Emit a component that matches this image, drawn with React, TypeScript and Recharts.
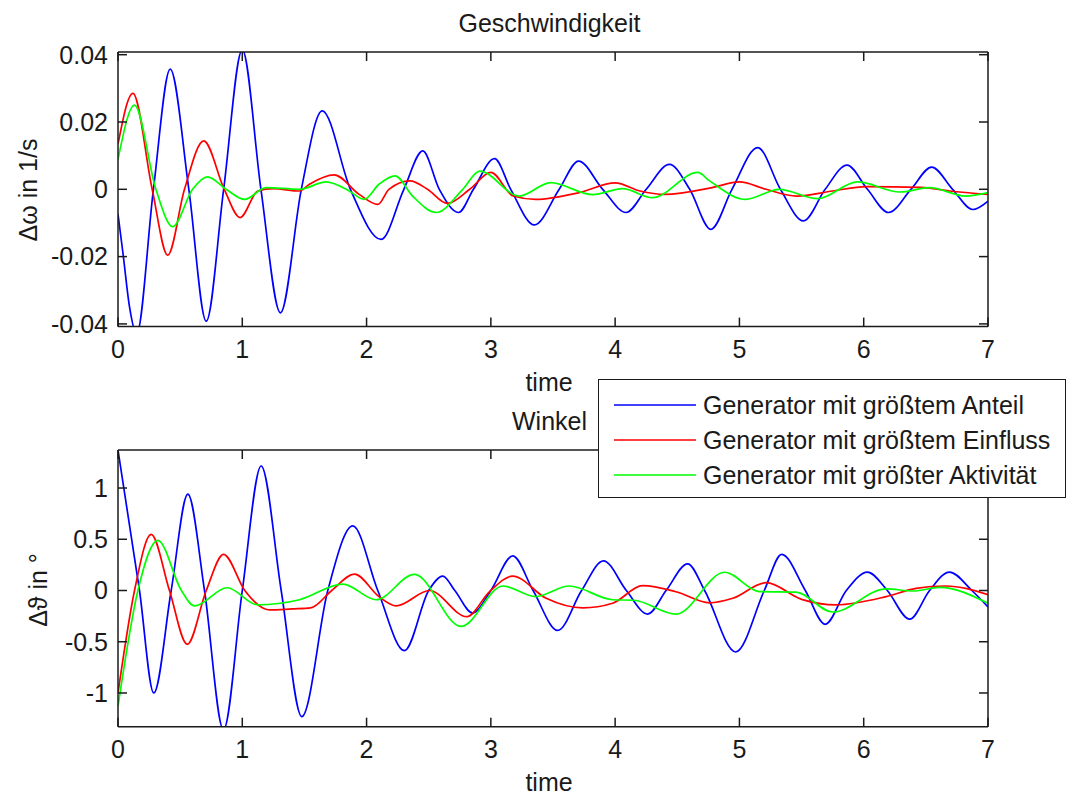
import React from 'react';
import { LineChart, Line, XAxis, YAxis, Legend, Label } from 'recharts';

const timeTicks = [0, 1, 2, 3, 4, 5, 6, 7];
const speedTicks = [-0.04, -0.02, 0, 0.02, 0.04];
const angleTicks = [-1, -0.5, 0, 0.5, 1];

const seriesNames = [
  'Generator mit größtem Anteil',
  'Generator mit größtem Einfluss',
  'Generator mit größter Aktivität',
];
const seriesColors = ['#0000ff', '#ff0000', '#00ff00'];

// Geschwindigkeit (Δω in 1/s) : [time, value]
const speedAnteil = [
  [0, -0.0074], [0.04, -0.019], [0.093, -0.035], [0.15, -0.043], [0.285, 0], [0.42, 0.0357],
  [0.57, 0], [0.71, -0.0392], [0.85, 0], [1.0, 0.0415], [1.15, 0], [1.307, -0.0367],
  [1.475, 0], [1.643, 0.0233], [1.87, 0], [2.117, -0.0149], [2.3, 0], [2.452, 0.0114],
  [2.585, 0], [2.74, -0.0069], [2.86, 0], [3.03, 0.0091], [3.16, 0], [3.35, -0.0106],
  [3.55, 0], [3.705, 0.0084], [3.9, 0], [4.088, -0.0069], [4.25, 0], [4.437, 0.0074],
  [4.6, 0], [4.77, -0.0119], [4.94, 0], [5.147, 0.0124], [5.33, 0], [5.515, -0.0094],
  [5.69, 0], [5.866, 0.0072], [6.03, 0], [6.2, -0.0069], [6.38, 0], [6.547, 0.0066],
  [6.715, 0], [6.877, -0.006], [7.0, -0.0035],
];
const speedEinfluss = [
  [0, 0.0134], [0.12, 0.0285], [0.275, 0], [0.4, -0.0196], [0.535, 0], [0.69, 0.0144],
  [0.855, 0], [0.983, -0.0084], [1.125, -0.0005], [1.25, 0.0002], [1.46, -0.0005],
  [1.54, 0.0015], [1.74, 0.0043], [1.94, -0.0015], [2.09, -0.0045], [2.18, 0], [2.35, 0.0025],
  [2.49, 0], [2.65, -0.0042], [2.83, 0], [3.0, 0.005], [3.18, -0.002], [3.36, -0.003],
  [3.71, -0.001], [4.0, 0.0019], [4.2, -0.0005], [4.4, -0.0015], [4.78, 0.0005], [5.0, 0.0022],
  [5.215, 0], [5.46, -0.002], [5.75, -0.0005], [6.02, 0.0008], [6.46, 0.0006], [6.69, -0.0005],
  [7.0, -0.0015],
];
const speedAktivitaet = [
  [0, 0.0089], [0.133, 0.025], [0.305, 0], [0.44, -0.0111], [0.6, 0], [0.72, 0.0037],
  [0.87, 0], [1.02, -0.003], [1.19, 0.0005], [1.46, 0], [1.675, 0.0022], [1.86, -0.0005],
  [1.98, -0.003], [2.1, 0.0015], [2.23, 0.004], [2.37, -0.002], [2.56, -0.0069], [2.774, 0],
  [2.91, 0.0054], [3.23, -0.002], [3.48, 0.002], [3.82, -0.0016], [4.06, 0.0002], [4.3, -0.0025],
  [4.665, 0.005], [4.76, 0.0025], [5.05, -0.003], [5.32, 0], [5.63, -0.0028], [5.95, 0.0022],
  [6.29, -0.0008], [6.53, 0.0005], [6.82, -0.002], [7.0, -0.001],
];

// Winkel (Δϑ in °) : [time, value]
const angleAnteil = [
  [0, 1.37], [0.173, 0], [0.288, -1.0], [0.428, 0], [0.562, 0.94], [0.696, 0], [0.849, -1.36],
  [1.0, 0], [1.152, 1.215], [1.313, 0], [1.479, -1.23], [1.688, 0], [1.889, 0.63], [2.09, 0],
  [2.305, -0.587], [2.5, 0], [2.613, 0.14], [2.71, 0], [2.854, -0.22], [3.0, 0], [3.176, 0.337],
  [3.34, 0], [3.538, -0.39], [3.73, 0], [3.906, 0.29], [4.09, 0], [4.262, -0.23], [4.41, 0],
  [4.584, 0.26], [4.72, 0], [4.97, -0.6], [5.2, 0], [5.34, 0.353], [5.53, 0], [5.69, -0.33],
  [5.86, 0], [6.03, 0.18], [6.19, 0], [6.37, -0.28], [6.53, 0], [6.69, 0.18], [6.87, 0],
  [7.0, -0.16],
];
const angleEinfluss = [
  [0, -1.0], [0.133, 0], [0.267, 0.548], [0.414, 0], [0.557, -0.525], [0.71, 0], [0.849, 0.353],
  [1.02, 0], [1.165, -0.17], [1.22, -0.19], [1.4, -0.18], [1.55, -0.17], [1.72, 0], [1.903, 0.16],
  [2.1, -0.06], [2.238, -0.15], [2.506, 0], [2.806, -0.255], [2.99, -0.01], [3.176, 0.14],
  [3.445, -0.076], [3.74, -0.17], [3.98, -0.125], [4.22, 0.047], [4.49, -0.012], [4.76, -0.12],
  [4.946, -0.076], [5.215, 0.076], [5.5, -0.086], [5.78, -0.14], [6.18, -0.06], [6.42, 0.02],
  [6.66, 0.044], [7.0, -0.04],
];
const angleAktivitaet = [
  [0, -1.13], [0.16, 0], [0.32, 0.49], [0.51, 0], [0.615, -0.15], [0.878, 0.027], [1.125, -0.14],
  [1.46, -0.09], [1.81, 0.063], [2.077, -0.09], [2.385, 0.158], [2.76, -0.35], [3.096, 0.044],
  [3.36, -0.06], [3.63, 0.044], [3.98, -0.09], [4.15, -0.095], [4.49, -0.23], [4.88, 0.178],
  [5.16, -0.01], [5.455, -0.015], [5.75, -0.21], [6.18, 0.015], [6.4, -0.005], [6.61, 0.03],
  [7.0, -0.125],
];

const toPoints = (arr: number[][]) => arr.map(([t, v]) => ({ t, v }));

const FONT = '"Liberation Sans", Arial, Helvetica, sans-serif';
const INK = '#1a1a1a';
const FS = 25;
const axisStroke = { stroke: INK, strokeWidth: 1.5 };

const renderLegend = (props: any) => {
  const payload = props.payload || [];
  return (
    <div
      style={{
        width: 468,
        height: 119,
        boxSizing: 'border-box',
        border: `1.5px solid ${INK}`,
        background: '#fff',
        position: 'relative',
        fontFamily: FONT,
      }}
    >
      {payload.map((p: any, i: number) => (
        <div
          key={i}
          style={{
            position: 'absolute',
            left: 0,
            top: 25 + 35 * i - 17,
            height: 34,
            display: 'flex',
            alignItems: 'center',
          }}
        >
          <svg width={112} height={34} style={{ display: 'block' }}>
            <line x1={15} x2={97} y1={17} y2={17} stroke={p.color} strokeWidth={1.7} />
          </svg>
          <span style={{ fontSize: FS, color: INK, marginLeft: -8, whiteSpace: 'nowrap' }}>{p.value}</span>
        </div>
      ))}
    </div>
  );
};

type PanelProps = {
  title: string;
  yLabel: string;
  yLabelX: number;
  yLabelY: number;
  yDomain: number[];
  yTicks: number[];
  series: number[][][];
  marginBottom: number;
  legend?: boolean;
};

function Panel(p: PanelProps) {
  return (
    <LineChart width={1072} height={398} margin={{ top: 51, right: 83, bottom: p.marginBottom, left: 58 }}>
      <XAxis
        xAxisId="bottom"
        orientation="bottom"
        type="number"
        dataKey="t"
        domain={[0, 7]}
        ticks={timeTicks}
        interval={0}
        height={30}
        tickSize={-9}
        tickMargin={22.5}
        axisLine={axisStroke}
        tickLine={axisStroke}
        tick={{ fill: INK, fontSize: FS }}
        allowDataOverflow
      >
        <Label value="time" position="bottom" offset={17} dx={-4} fontSize={FS} fill={INK} />
      </XAxis>
      <XAxis
        xAxisId="top"
        orientation="top"
        type="number"
        dataKey="t"
        domain={[0, 7]}
        ticks={timeTicks}
        interval={0}
        height={1}
        tickSize={-9}
        axisLine={axisStroke}
        tickLine={axisStroke}
        tickFormatter={() => ''}
        allowDataOverflow
      >
        <Label value={p.title} position="top" offset={19.5} dx={-3.5} fontSize={FS} fill={INK} />
      </XAxis>
      <YAxis
        yAxisId="left"
        orientation="left"
        type="number"
        domain={p.yDomain}
        ticks={p.yTicks}
        interval={0}
        width={60}
        tickSize={-9}
        tickMargin={19}
        axisLine={axisStroke}
        tickLine={axisStroke}
        tick={{ fill: INK, fontSize: FS }}
        allowDataOverflow
      >
        <Label
          content={() => (
            <text
              x={p.yLabelX}
              y={p.yLabelY}
              transform={`rotate(-90 ${p.yLabelX} ${p.yLabelY})`}
              textAnchor="middle"
              fontSize={FS}
              fill={INK}
            >
              {p.yLabel}
            </text>
          )}
        />
      </YAxis>
      <YAxis
        yAxisId="right"
        orientation="right"
        type="number"
        domain={p.yDomain}
        ticks={p.yTicks}
        interval={0}
        width={1}
        tickSize={-9}
        axisLine={axisStroke}
        tickLine={axisStroke}
        tickFormatter={() => ''}
        allowDataOverflow
      />
      {p.series.map((s, i) => (
        <Line
          key={i}
          xAxisId="bottom"
          yAxisId="left"
          data={toPoints(s)}
          dataKey="v"
          name={seriesNames[i]}
          stroke={seriesColors[i]}
          strokeWidth={1.7}
          dot={false}
          activeDot={false}
          type="monotone"
          isAnimationActive={false}
        />
      ))}
      {p.legend && (
        <Legend
          layout="horizontal"
          verticalAlign="middle"
          align="center"
          content={renderLegend}
          wrapperStyle={{ left: 598, top: -19, width: 468, height: 119 }}
        />
      )}
    </LineChart>
  );
}

export default function App() {
  return (
    <div
      style={{
        position: 'absolute',
        left: 0,
        top: 0,
        width: 1072,
        height: 796,
        background: '#fff',
        fontFamily: FONT,
      }}
    >
      <div style={{ position: 'absolute', left: 0, top: 0 }}>
        <Panel
          title="Geschwindigkeit"
          yLabel="Δω in 1/s"
          yLabelX={36.5}
          yLabelY={190}
          yDomain={[-0.0408, 0.0408]}
          yTicks={speedTicks}
          series={[speedAnteil, speedEinfluss, speedAktivitaet]}
          marginBottom={41.4}
        />
      </div>
      <div style={{ position: 'absolute', left: 0, top: 398 }}>
        <Panel
          title="Winkel"
          yLabel="Δϑ in °"
          yLabelX={47}
          yLabelY={192}
          yDomain={[-1.329, 1.371]}
          yTicks={angleTicks}
          series={[angleAnteil, angleEinfluss, angleAktivitaet]}
          marginBottom={39.3}
          legend
        />
      </div>
    </div>
  );
}
